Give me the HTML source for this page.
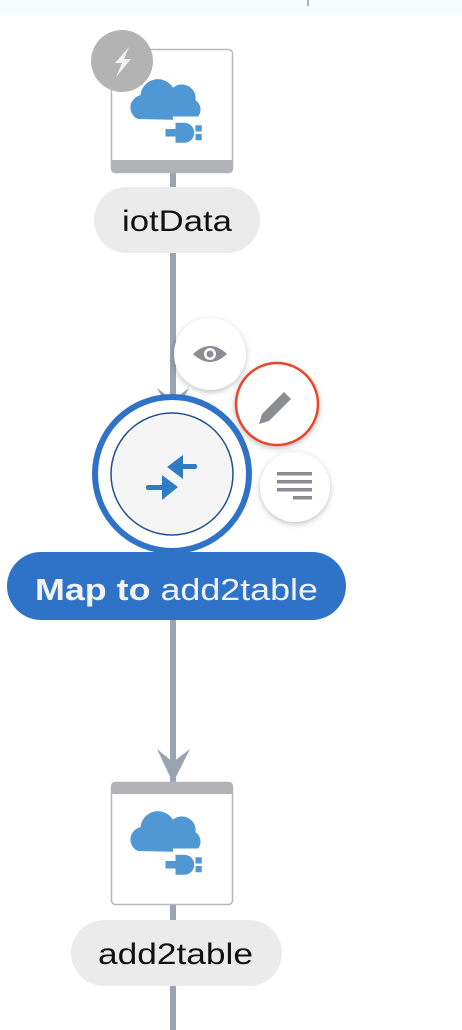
<!DOCTYPE html>
<html><head><style>
html,body{margin:0;padding:0;background:#fff;width:462px;height:1030px;overflow:hidden}
svg{display:block}
text{font-family:"Liberation Sans",Arial,sans-serif}
</style></head><body>
<svg width="462" height="1030" viewBox="0 0 462 1030" xmlns="http://www.w3.org/2000/svg">
<defs>
<filter id="sh" x="-30%" y="-30%" width="160%" height="160%"><feDropShadow dx="0" dy="2" stdDeviation="3" flood-color="#000" flood-opacity="0.25"/></filter>
<g id="cloud">
<path d="M-28,8 a10,10 0 0 1 2,-19 a14,14 0 0 1 26,-6 a11,11 0 0 1 18,10 a9,9 0 0 1 -2,16 z" fill="#4f98d3"/>
<rect x="0" y="6" width="22" height="20" fill="#fff"/>
<path d="M2,11 h7 a8,8 0 0 1 8,8 v0 a8,8 0 0 1 -8,8 h-7z" fill="#4f98d3"/>
<rect x="-6" y="16" width="9" height="6" fill="#4f98d3"/>
<rect x="18" y="13" width="5" height="5" fill="#4f98d3"/>
<rect x="18" y="20" width="5" height="5" fill="#4f98d3"/>
</g>
</defs>
<rect x="0" y="0" width="462" height="14" fill="#f6fdfe"/>
<rect x="307" y="0" width="2" height="6" fill="#b0b0b0"/>
<rect x="170" y="170" width="6" height="860" fill="#9aa4b0"/>
<!-- top card -->
<rect x="111.5" y="49.5" width="121" height="123" rx="4" fill="#fff" stroke="#b8b8b8" stroke-width="1.5"/>
<path d="M111,160 h122 v9 a4,4 0 0 1 -4,4 h-114 a4,4 0 0 1 -4,-4z" fill="#b0b2b5"/>
<g transform="translate(173,109) scale(1.25)"><use href="#cloud"/></g>
<circle cx="122" cy="61" r="31" fill="#b3b3b3"/>
<path d="M129,47 l-14,16 h7 l-6,14 l15,-18 h-7z" fill="#f2f2f2"/>
<rect x="94" y="187" width="166" height="66" rx="33" fill="#ebebeb"/>
<text x="122" y="231" font-size="30" textLength="110" lengthAdjust="spacingAndGlyphs" fill="#111">iotData</text>
<!-- arrowhead into map -->
<path d="M157,388 L173,418 L189,388 L173,400z" fill="#9aa4b0"/>
<!-- map node -->
<circle cx="172" cy="474" r="77" fill="#fff" stroke="#2f73c8" stroke-width="6"/>
<circle cx="172" cy="474" r="61" fill="#f5f5f5" stroke="#1f4f91" stroke-width="1.5"/>
<g fill="#2f7bc4">
<rect x="180" y="464" width="17" height="5" rx="2"/>
<path d="M167,467 L183,455 L183,479z"/>
<rect x="146" y="485" width="18" height="5" rx="2"/>
<path d="M178,487 L162,475 L162,500z"/>
</g>
<!-- eye -->
<circle cx="210" cy="354" r="36" fill="#fff" filter="url(#sh)"/>
<path d="M193,354 q17,-16 34,0 q-17,16 -34,0z" fill="#8a8d91"/>
<circle cx="210" cy="354" r="6" fill="#fff"/><circle cx="210" cy="354" r="3.5" fill="#8a8d91"/>
<!-- pencil -->
<circle cx="277" cy="404" r="41" fill="#fff" stroke="#e8452a" stroke-width="2.5" filter="url(#sh)"/>
<path d="M259,424 l3,-10 l22,-22 l7,7 l-22,22z" fill="#8a8d91"/>
<!-- menu -->
<circle cx="295" cy="487" r="35" fill="#fff" filter="url(#sh)"/>
<g fill="#8a8d91"><rect x="277" y="472" width="35" height="3.5"/><rect x="277" y="480" width="35" height="3.5"/><rect x="277" y="488" width="35" height="3.5"/><rect x="293" y="496" width="19" height="3.5"/></g>
<!-- map pill -->
<rect x="7" y="552" width="339" height="68" rx="34" fill="#2f73c8"/>
<text x="35" y="600" font-size="31" textLength="283" lengthAdjust="spacingAndGlyphs" fill="#f2f2f2"><tspan font-weight="bold">Map to</tspan> add2table</text>
<!-- bottom arrow -->
<path d="M157,749 L173,783 L190,749 L173,762z" fill="#9aa4b0"/>
<!-- bottom card -->
<rect x="111.5" y="782.5" width="121" height="122" rx="4" fill="#fff" stroke="#b8b8b8" stroke-width="1.5"/>
<path d="M115,782 h114 a4,4 0 0 1 4,4 v8 h-122 v-8 a4,4 0 0 1 4,-4z" fill="#b0b2b5"/>
<g transform="translate(173,841) scale(1.25)"><use href="#cloud"/></g>
<rect x="71" y="920" width="211" height="66" rx="33" fill="#ebebeb"/>
<text x="98" y="964" font-size="30" textLength="155" lengthAdjust="spacingAndGlyphs" fill="#111">add2table</text>
</svg>
</body></html>
